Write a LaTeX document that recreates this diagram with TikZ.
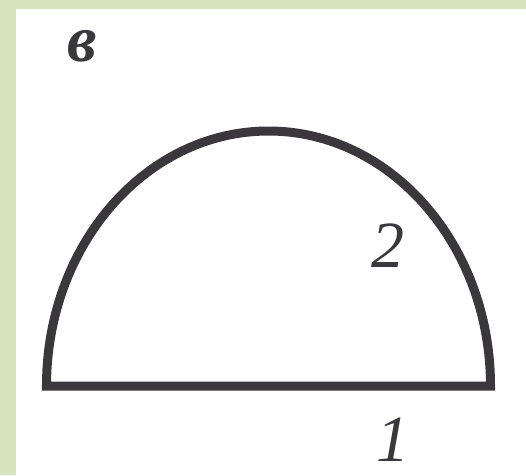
\documentclass[tikz,border=0pt]{standalone}
\usepackage{fontspec}
\setmainfont{Liberation Serif}
\definecolor{framegreen}{RGB}{214,227,188}
\definecolor{inkgray}{RGB}{58,56,60}

\begin{document}
\begin{tikzpicture}[x=1pt,y=1pt,lbl/.style={font=\fontsize{66}{66}\selectfont\itshape,inner sep=0pt,text=inkgray}]
\useasboundingbox (0,0) rectangle (526,475);
\fill[framegreen] (0,0) rectangle (526,475);
\fill[white] (16,0) rectangle (526,466);
% half of the ellipse on its base line
\draw[line width=9pt,draw=inkgray,line join=miter] (46.5,89) -- (490.5,89) arc[start angle=0,end angle=180,x radius=222,y radius=255] -- cycle;
\node[lbl,font=\fontsize{66}{66}\selectfont\bfseries\itshape] (v) at (82,429) {в};
\node[lbl] (n2) at (388,229) {2};
\node[lbl] (n1) at (393,35) {1};
\end{tikzpicture}
\end{document}
